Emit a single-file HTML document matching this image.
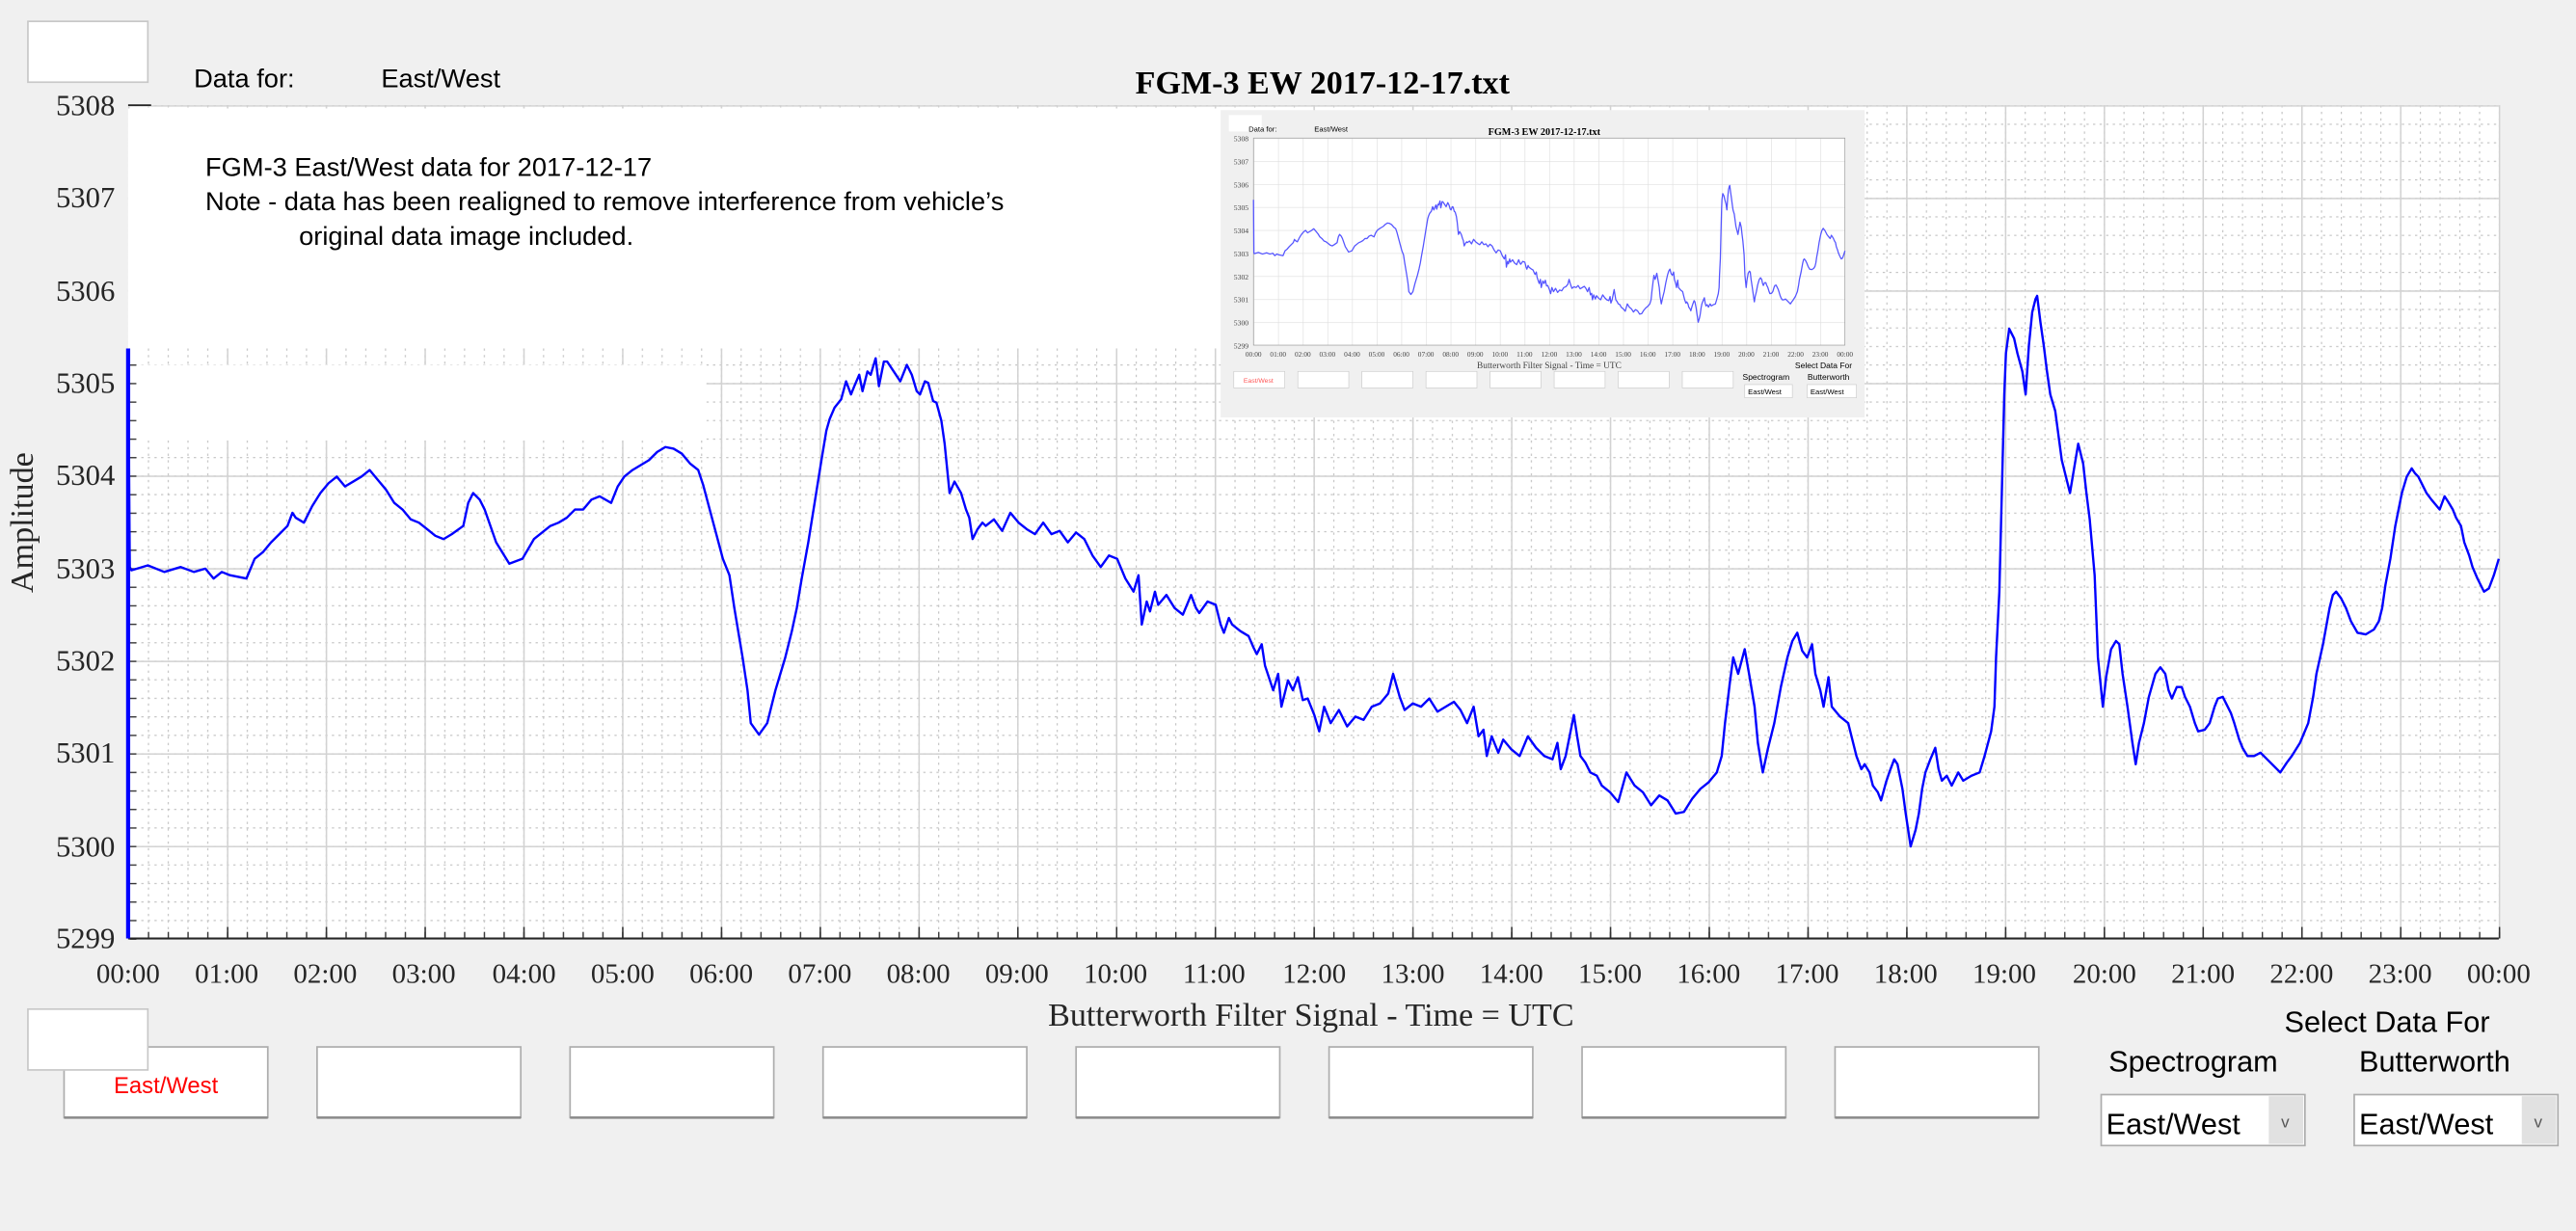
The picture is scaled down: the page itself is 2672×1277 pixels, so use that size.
<!DOCTYPE html>
<html><head><meta charset="utf-8"><style>
html,body{margin:0;padding:0;background:#f0f0f0;overflow:hidden}
svg{display:block}
.s{font-family:"Liberation Serif",serif}
.a{font-family:"Liberation Sans",sans-serif}
</style></head><body>
<svg width="2672" height="1277" viewBox="0 0 1568 749" preserveAspectRatio="none" xmlns="http://www.w3.org/2000/svg" xmlns:xlink="http://www.w3.org/1999/xlink">
<defs>
<pattern id="minV" x="78" y="64" width="12.025" height="4" patternUnits="userSpaceOnUse"><rect x="0" y="0" width="0.7" height="1.4" fill="#c4c4c4"/></pattern>
<pattern id="minH" x="78" y="64" width="4" height="11.2667" patternUnits="userSpaceOnUse"><rect x="0" y="0" width="1.4" height="0.7" fill="#c4c4c4"/></pattern>
<pattern id="majV" x="78" y="64" width="60.125" height="507" patternUnits="userSpaceOnUse"><rect x="0" y="0" width="0.9" height="507" fill="#d2d2d2"/></pattern>
<pattern id="majH" x="78" y="64" width="1443" height="56.333" patternUnits="userSpaceOnUse"><rect x="0" y="0" width="1443" height="0.9" fill="#d2d2d2"/></pattern>
<pattern id="tkS" x="78" y="0" width="12.025" height="10" patternUnits="userSpaceOnUse"><rect x="0" y="0" width="0.8" height="10" fill="#333"/></pattern>
<pattern id="tkL" x="78" y="0" width="60.125" height="10" patternUnits="userSpaceOnUse"><rect x="0" y="0" width="0.9" height="10" fill="#333"/></pattern>
<pattern id="ytk" x="0" y="64" width="10" height="11.2667" patternUnits="userSpaceOnUse"><rect x="0" y="0" width="10" height="0.8" fill="#333"/></pattern>
<pattern id="igV" x="763" y="84" width="15" height="126" patternUnits="userSpaceOnUse"><rect x="0" y="0" width="0.4" height="126" fill="#e0e0e0"/></pattern>
<pattern id="igH" x="763" y="84" width="360" height="14" patternUnits="userSpaceOnUse"><rect x="0" y="0" width="360" height="0.4" fill="#e0e0e0"/></pattern>
<polyline id="main" fill="none" stroke-linejoin="round" points="78,215 79,345 80,347 90,344 100,348 110,345 118,348 125,346 130,352 135,348 140,350 150,352 155,340 160,336 165,330 170,325 175,320 178,312 180,315 185,318 190,308 195,300 200,294 205,290 210,296 215,293 220,290 225,286 230,292 235,298 240,306 245,310 250,316 255,318 260,322 265,326 270,328 275,325 282,320 285,306 288,300 292,304 295,310 302,330 310,343 318,340 325,328 335,320 340,318 345,315 350,310 355,310 360,304 365,302 372,306 376,296 380,290 385,286 390,283 395,280 400,275 405,272 410,273 415,276 420,282 425,286 428,295 432,310 436,325 440,340 444,350 447,370 452,400 455,420 457,440 462,447 467,440 470,428 472,420 475,410 478,400 482,384 485,370 488,352 492,330 496,305 500,280 503,262 505,255 508,248 512,243 515,232 518,240 520,235 523,228 525,238 528,226 530,228 533,218 535,235 538,220 540,220 544,226 548,232 552,222 555,228 558,238 560,240 563,232 565,233 568,244 570,245 573,256 575,270 577,290 578,300 581,293 585,300 588,310 590,315 592,328 595,322 598,318 600,320 605,316 610,323 615,312 620,318 625,322 630,325 635,318 640,325 645,323 650,330 655,324 660,328 665,338 670,345 675,338 680,340 685,352 690,360 693,350 695,380 698,366 700,372 703,360 705,368 710,362 715,370 720,374 725,362 728,370 730,373 735,366 740,368 743,380 745,385 748,376 750,380 755,384 760,387 763,394 765,398 768,392 770,405 773,414 775,420 778,410 780,430 784,414 787,420 790,412 793,426 796,425 800,435 803,445 806,430 810,440 815,432 820,442 825,436 830,438 835,430 840,428 845,422 848,410 852,424 855,432 860,428 865,430 870,425 875,433 880,430 885,427 889,432 893,440 897,430 900,448 903,444 905,460 908,448 912,458 915,450 920,456 925,460 930,448 935,455 940,460 945,462 948,452 950,468 953,460 955,450 958,435 960,448 962,460 965,464 968,470 972,472 975,478 980,482 985,488 990,470 995,478 1000,482 1005,490 1010,484 1015,487 1020,495 1025,494 1030,486 1035,480 1040,476 1045,470 1048,460 1050,440 1053,415 1055,400 1058,410 1062,395 1065,412 1068,430 1070,452 1073,470 1076,456 1080,440 1084,418 1088,400 1091,390 1094,385 1097,396 1100,400 1103,392 1105,410 1108,420 1110,430 1113,412 1115,430 1120,436 1125,440 1128,452 1130,460 1133,468 1135,465 1138,470 1140,478 1143,482 1145,487 1148,476 1150,470 1153,462 1155,465 1158,480 1160,495 1163,515 1166,505 1168,495 1170,480 1172,470 1175,462 1178,455 1180,468 1182,475 1185,472 1188,478 1192,470 1195,475 1200,472 1205,470 1208,460 1212,445 1214,430 1215,400 1217,360 1218,320 1219,280 1220,240 1221,215 1223,200 1226,206 1228,215 1231,226 1233,240 1235,210 1237,190 1239,182 1240,180 1242,196 1244,210 1246,226 1248,240 1251,250 1255,280 1258,292 1260,300 1263,282 1265,270 1268,282 1270,300 1272,316 1275,350 1277,400 1280,430 1282,412 1285,395 1288,390 1290,392 1292,410 1295,430 1298,452 1300,465 1302,452 1305,440 1308,424 1312,410 1315,406 1318,410 1320,420 1322,425 1325,418 1328,418 1330,424 1333,430 1336,440 1338,445 1342,444 1345,440 1348,430 1350,425 1353,424 1355,428 1358,434 1360,440 1363,450 1365,455 1368,460 1372,460 1376,458 1380,462 1384,466 1388,470 1392,464 1395,460 1400,452 1405,440 1408,424 1410,410 1414,392 1418,370 1420,362 1422,360 1425,364 1428,370 1431,378 1435,385 1440,386 1445,383 1448,378 1450,370 1452,356 1455,340 1458,320 1462,300 1465,290 1468,285 1470,288 1472,290 1475,296 1477,300 1480,304 1485,310 1488,302 1490,305 1493,310 1495,315 1498,320 1500,330 1503,338 1505,345 1508,352 1512,360 1515,358 1518,350 1521,340"/>
</defs>
<rect width="1568" height="749" fill="#f0f0f0"/>
<rect x="17" y="13" width="73" height="37" fill="#fff" stroke="#c8c8c8"/>
<text x="118" y="53" class="a" font-size="16">Data for:</text>
<text x="232" y="53" class="a" font-size="16">East/West</text>
<text x="805" y="57" class="s" font-size="20" font-weight="bold" text-anchor="middle">FGM-3 EW 2017-12-17.txt</text>
<rect x="78" y="64" width="1443" height="507" fill="#fff"/>
<rect x="78" y="64" width="1443" height="507" fill="url(#minV)"/>
<rect x="78" y="64" width="1443" height="507" fill="url(#minH)"/>
<rect x="78" y="64" width="1444" height="507" fill="url(#majV)"/>
<rect x="78" y="64" width="1443" height="508" fill="url(#majH)"/>
<rect x="78" y="66" width="667" height="146" fill="#fff"/>
<rect x="80" y="222" width="350" height="46" fill="#fff"/>
<text x="125" y="107" class="a" font-size="16">FGM-3 East/West data for 2017-12-17</text>
<text x="125" y="128" class="a" font-size="16">Note - data has been realigned to remove interference from vehicle’s</text>
<text x="182" y="149" class="a" font-size="16">original data image included.</text>
<rect x="78" y="567" width="1444" height="4" fill="url(#tkS)"/>
<rect x="78" y="564" width="1444" height="7" fill="url(#tkL)"/>
<rect x="79" y="214" width="4" height="358" fill="url(#ytk)"/>
<line x1="78" y1="571" x2="1521" y2="571" stroke="#262626" stroke-width="1.2"/>
<line x1="78" y1="64" x2="92" y2="64" stroke="#262626" stroke-width="1"/>
<line x1="78" y1="212" x2="78" y2="571" stroke="#0000ff" stroke-width="2.5"/>
<g class="s" font-size="18" fill="#262626" text-anchor="end">
<text x="70" y="577">5299</text><text x="70" y="521">5300</text><text x="70" y="464">5301</text><text x="70" y="408">5302</text><text x="70" y="352">5303</text><text x="70" y="295">5304</text><text x="70" y="239">5305</text><text x="70" y="183">5306</text><text x="70" y="126">5307</text><text x="70" y="70">5308</text>
</g>
<g class="s" font-size="17" fill="#262626" text-anchor="middle">
<text x="78" y="598">00:00</text><text x="138" y="598">01:00</text><text x="198" y="598">02:00</text><text x="258" y="598">03:00</text><text x="319" y="598">04:00</text><text x="379" y="598">05:00</text><text x="439" y="598">06:00</text><text x="499" y="598">07:00</text><text x="559" y="598">08:00</text><text x="619" y="598">09:00</text><text x="679" y="598">10:00</text><text x="739" y="598">11:00</text><text x="800" y="598">12:00</text><text x="860" y="598">13:00</text><text x="920" y="598">14:00</text><text x="980" y="598">15:00</text><text x="1040" y="598">16:00</text><text x="1100" y="598">17:00</text><text x="1160" y="598">18:00</text><text x="1220" y="598">19:00</text><text x="1281" y="598">20:00</text><text x="1341" y="598">21:00</text><text x="1401" y="598">22:00</text><text x="1461" y="598">23:00</text><text x="1521" y="598">00:00</text>
</g>
<text transform="translate(20,318) rotate(-90)" class="s" font-size="20" text-anchor="middle" fill="#262626">Amplitude</text>
<text x="798" y="624" class="s" font-size="20" text-anchor="middle" fill="#262626">Butterworth Filter Signal - Time = UTC</text>
<use xlink:href="#main" href="#main" stroke="#0000ff" stroke-width="1.4"/>
<!-- inset -->
<rect x="743" y="67" width="392" height="187" fill="#f0f0f0"/>
<rect x="748" y="70" width="20" height="10" fill="#fff"/>
<text x="760" y="80" class="a" font-size="4.5">Data for:</text>
<text x="800" y="80" class="a" font-size="4.5">East/West</text>
<text x="940" y="82" class="s" font-size="6" font-weight="bold" text-anchor="middle">FGM-3 EW 2017-12-17.txt</text>
<rect x="763" y="84" width="360" height="126" fill="#fff"/>
<rect x="763" y="84" width="360" height="126" fill="url(#igV)"/>
<rect x="763" y="84" width="360" height="126" fill="url(#igH)"/>
<rect x="763" y="84" width="360" height="126" fill="none" stroke="#999" stroke-width="0.4"/>
<g transform="translate(763,84) scale(0.24948,0.24852) translate(-78,-64)"><use xlink:href="#main" href="#main" stroke-width="3" stroke="#5555ff"/></g>
<g class="s" font-size="4.5" fill="#444" text-anchor="end">
<text x="760" y="212">5299</text><text x="760" y="198">5300</text><text x="760" y="184">5301</text><text x="760" y="170">5302</text><text x="760" y="156">5303</text><text x="760" y="142">5304</text><text x="760" y="128">5305</text><text x="760" y="114">5306</text><text x="760" y="100">5307</text><text x="760" y="86">5308</text>
</g>
<g class="s" font-size="4.3" fill="#444" text-anchor="middle">
<text x="763" y="217">00:00</text><text x="778" y="217">01:00</text><text x="793" y="217">02:00</text><text x="808" y="217">03:00</text><text x="823" y="217">04:00</text><text x="838" y="217">05:00</text><text x="853" y="217">06:00</text><text x="868" y="217">07:00</text><text x="883" y="217">08:00</text><text x="898" y="217">09:00</text><text x="913" y="217">10:00</text><text x="928" y="217">11:00</text><text x="943" y="217">12:00</text><text x="958" y="217">13:00</text><text x="973" y="217">14:00</text><text x="988" y="217">15:00</text><text x="1003" y="217">16:00</text><text x="1018" y="217">17:00</text><text x="1033" y="217">18:00</text><text x="1048" y="217">19:00</text><text x="1063" y="217">20:00</text><text x="1078" y="217">21:00</text><text x="1093" y="217">22:00</text><text x="1108" y="217">23:00</text><text x="1123" y="217">00:00</text>
</g>
<text x="943" y="224" class="s" font-size="5.5" text-anchor="middle" fill="#444">Butterworth Filter Signal - Time = UTC</text>
<text x="1110" y="224" class="a" font-size="5" text-anchor="middle">Select Data For</text>
<text x="1075" y="231" class="a" font-size="5" text-anchor="middle">Spectrogram</text>
<text x="1113" y="231" class="a" font-size="5" text-anchor="middle">Butterworth</text>
<g fill="#fff" stroke="#ccc" stroke-width="0.4">
<rect x="751" y="226" width="31" height="10"/><rect x="790" y="226" width="31" height="10"/><rect x="829" y="226" width="31" height="10"/><rect x="868" y="226" width="31" height="10"/><rect x="907" y="226" width="31" height="10"/><rect x="946" y="226" width="31" height="10"/><rect x="985" y="226" width="31" height="10"/><rect x="1024" y="226" width="31" height="10"/>
<rect x="1062" y="234" width="29" height="8"/><rect x="1100" y="234" width="30" height="8"/>
</g>
<text x="766" y="233" class="a" font-size="4" fill="#f55" text-anchor="middle">East/West</text>
<text x="1064" y="240" class="a" font-size="4.5">East/West</text>
<text x="1102" y="240" class="a" font-size="4.5">East/West</text>
<!-- bottom controls -->
<g fill="#fff" stroke="#adadad">
<rect x="39" y="637" width="124" height="43"/><rect x="193" y="637" width="124" height="43"/><rect x="347" y="637" width="124" height="43"/><rect x="501" y="637" width="124" height="43"/><rect x="655" y="637" width="124" height="43"/><rect x="809" y="637" width="124" height="43"/><rect x="963" y="637" width="124" height="43"/><rect x="1117" y="637" width="124" height="43"/>
</g>
<g stroke="#8a8a8a" stroke-width="1.5">
<line x1="39" y1="680" x2="163" y2="680"/><line x1="193" y1="680" x2="317" y2="680"/><line x1="347" y1="680" x2="471" y2="680"/><line x1="501" y1="680" x2="625" y2="680"/><line x1="655" y1="680" x2="779" y2="680"/><line x1="809" y1="680" x2="933" y2="680"/><line x1="963" y1="680" x2="1087" y2="680"/><line x1="1117" y1="680" x2="1241" y2="680"/>
</g>
<text x="101" y="665" class="a" font-size="14" fill="#ff0000" text-anchor="middle">East/West</text>
<rect x="17" y="614" width="73" height="37" fill="#fff" stroke="#c8c8c8"/>
<text x="1453" y="628" class="a" font-size="18" text-anchor="middle">Select Data For</text>
<text x="1335" y="652" class="a" font-size="18" text-anchor="middle">Spectrogram</text>
<text x="1482" y="652" class="a" font-size="18" text-anchor="middle">Butterworth</text>
<rect x="1279" y="666" width="124" height="31" fill="#fff" stroke="#adadad"/>
<rect x="1381" y="667" width="21" height="29" fill="#e1e1e1"/>
<text x="1282" y="690" class="a" font-size="18">East/West</text>
<text x="1391" y="686" class="a" font-size="10" text-anchor="middle" fill="#555">v</text>
<rect x="1433" y="666" width="124" height="31" fill="#fff" stroke="#adadad"/>
<rect x="1535" y="667" width="21" height="29" fill="#e1e1e1"/>
<text x="1436" y="690" class="a" font-size="18">East/West</text>
<text x="1545" y="686" class="a" font-size="10" text-anchor="middle" fill="#555">v</text>
</svg>
</body></html>
